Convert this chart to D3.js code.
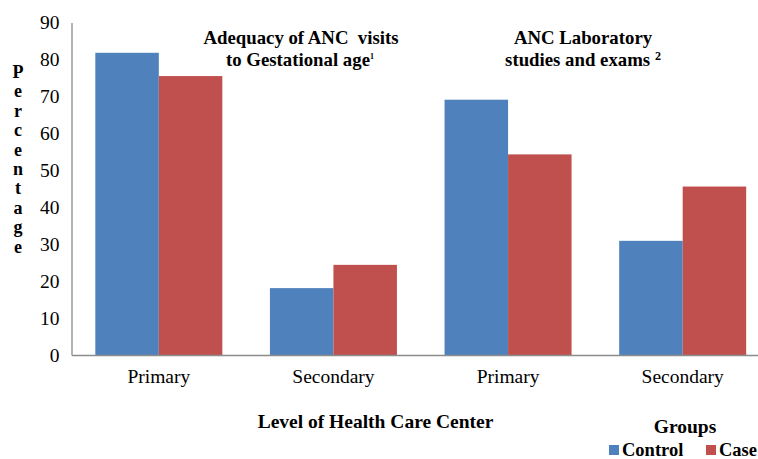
<!DOCTYPE html>
<html>
<head>
<meta charset="utf-8">
<script src="https://cdn.jsdelivr.net/npm/d3@7"></script>
<style>
  html, body { margin: 0; padding: 0; background: #fff; }
  svg { display: block; }
</style>
</head>
<body>
<svg id="chart" width="758" height="459"></svg>
<script>
// ---- Data ----
const categoryIds = ["anc-primary", "anc-secondary", "lab-primary", "lab-secondary"];
const categoryLabels = ["Primary", "Secondary", "Primary", "Secondary"];
const seriesNames = ["Control", "Case"];
const controlValues = [81.8, 18.1, 69.1, 30.9];
const caseValues = [75.5, 24.4, 54.3, 45.6];
const yTicks = [0, 10, 20, 30, 40, 50, 60, 70, 80, 90];
const seriesColors = ["#4F81BD", "#C0504D"];
const yLabelText = "Percentage";
const xTitleText = "Level of Health Care Center";
const legendTitleText = "Groups";

const SERIF = '"Liberation Serif", "Tinos", "Times New Roman", serif';

// ---- Layout ----
const svg = d3.select("#chart");
const plotLeft = 71.5, plotRight = 770, plotTop = 22.5, plotBottom = 355;

const x0 = d3.scaleBand().domain(categoryIds).range([plotLeft, plotRight]).padding(0);
const x1 = d3.scaleBand().domain(seriesNames).range([0, x0.bandwidth()]).paddingInner(0).paddingOuter(0.375);
const y = d3.scaleLinear().domain([0, 90]).range([plotBottom, plotTop]);
const color = d3.scaleOrdinal().domain(seriesNames).range(seriesColors);

const rows = categoryIds.map((id, i) => ({
  id, label: categoryLabels[i],
  values: [{ s: "Control", v: controlValues[i] }, { s: "Case", v: caseValues[i] }]
}));

// Bars
const g = svg.append("g");
g.selectAll("g.cat").data(rows).join("g")
  .attr("class", "cat")
  .attr("transform", d => `translate(${x0(d.id)},0)`)
  .selectAll("rect").data(d => d.values).join("rect")
  .attr("x", d => x1(d.s))
  .attr("y", d => y(d.v))
  .attr("width", x1.bandwidth())
  .attr("height", d => y(0) - y(d.v))
  .attr("fill", d => color(d.s));

// Y axis
const yAxis = svg.append("g")
  .attr("transform", `translate(${plotLeft},0)`)
  .call(d3.axisLeft(y).tickValues(yTicks).tickSize(0).tickPadding(12));
yAxis.attr("font-family", null).attr("font-size", null);
yAxis.select(".domain").attr("stroke", "#8c8c8c").attr("stroke-width", 1.3);
yAxis.selectAll("text").style("font-family", SERIF).style("font-size", "19.5px").attr("fill", "#000");

// X axis
const xAxis = svg.append("g")
  .attr("transform", `translate(0,${plotBottom})`)
  .call(d3.axisBottom(x0).tickSize(0).tickPadding(14).tickFormat((d, i) => categoryLabels[i]));
xAxis.attr("font-family", null).attr("font-size", null);
xAxis.select(".domain").attr("stroke", "#8c8c8c").attr("stroke-width", 1.3);
xAxis.selectAll("text").style("font-family", SERIF).style("font-size", "19.5px").attr("fill", "#000");

function styleBold(sel, size) {
  return sel.attr("fill", "#000")
    .style("font-family", SERIF).style("font-size", size + "px").style("font-weight", "bold");
}

// Y label (stacked letters)
const yl = styleBold(svg.append("text").attr("text-anchor", "middle"), 18);
yLabelText.split("").forEach((ch, i) => {
  yl.append("tspan").attr("x", 18).attr("y", 78 + i * 19.4).text(ch);
});

function boldText(x, yy, txt, anchor = "middle", size = 19.5) {
  return styleBold(svg.append("text").attr("x", x).attr("y", yy).attr("text-anchor", anchor), size)
    .style("white-space", "pre")
    .text(txt);
}
boldText(301, 44, "Adequacy of ANC\u00a0 visits", "middle", 18.8);
const t2 = boldText(300, 66, "to Gestational age", "middle", 18.8);
t2.append("tspan").attr("dy", -7).style("font-size", "8px").text("1");
boldText(583, 44, "ANC Laboratory", "middle", 18.8);
const t4 = boldText(583, 66, "studies and exams ", "middle", 18.8);
t4.append("tspan").attr("dy", -6).style("font-size", "12px").text("2");

// X title
boldText(375.5, 428, xTitleText, "middle", 19.5);

// Legend
boldText(685, 433, legendTitleText, "middle", 19.5);
const legendX = [609, 706];
const lg = svg.append("g");
seriesNames.forEach((s, i) => {
  lg.append("rect").attr("x", legendX[i]).attr("y", 445).attr("width", 10).attr("height", 10).attr("fill", color(s));
  boldText(legendX[i] + 13, 456, s, "start", 18.5);
});
</script>
</body>
</html>
